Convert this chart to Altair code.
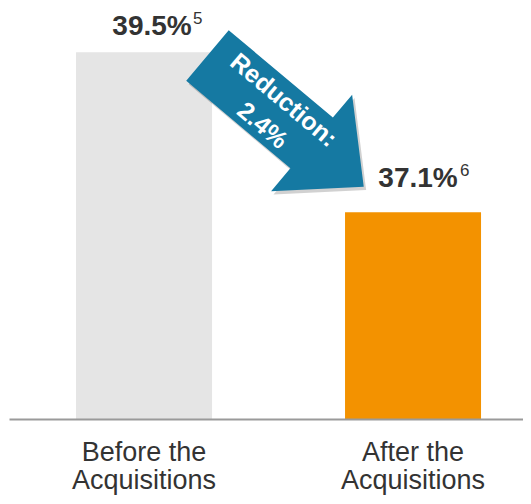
import altair as alt
import pandas as pd

# ---- data ----
categories = ["Before the|Acquisitions", "After the|Acquisitions"]
values = [39.5, 37.1]
footnotes = ["5", "6"]
bar_colors = ["#E5E5E5", "#F39200"]
arrow_color = "#1579A2"

FONT = "Liberation Sans"
TEXT_COLOR = "#333333"
Y_MIN, Y_MAX = 34.0, 40.165
W, H = 514, 411

df = pd.DataFrame({
    "cat": categories,
    "value": values,
    "note": footnotes,
    "label": [f"{v:.1f}%" for v in values],
})
reduction = round(values[0] - values[1], 1)
arrow_df = pd.DataFrame({"text": [f"Reduction:\n{reduction:.1f}%"]})

ARROW_PATH = ("M -1 -0.324 L 0.333 -0.324 L 0.333 -0.618 L 1 0 "
              "L 0.333 0.618 L 0.333 0.324 L -1 0.324 Z")

x_enc = alt.X(
    "cat:N", sort=categories,
    scale=alt.Scale(paddingInner=0.4944, paddingOuter=0.2026, align=0.615),
    axis=alt.Axis(
        title=None, labelExpr="split(datum.label, '|')", labelAngle=0,
        labelFont=FONT, labelFontSize=27, labelColor=TEXT_COLOR,
        labelLineHeight=28, labelPadding=20, ticks=False, tickSize=0,
        domainColor="#9A9A9A", domainWidth=2, zindex=1, grid=False,
    ),
)
y_enc = alt.Y("value:Q", stack=None,
              scale=alt.Scale(domain=[Y_MIN, Y_MAX], zero=False, nice=False),
              axis=None)

base = alt.Chart(df)

bars = base.mark_bar(clip=True).encode(
    x=x_enc, y=y_enc,
    color=alt.Color("cat:N", scale=alt.Scale(domain=categories, range=bar_colors), legend=None),
)

label_style = [
    # (main dx, main dy, sup dx, sup dy)
    (8, -17, 49, -28),
    (5, -25, 47, -36),
]
layers = [bars]
for cat, (mdx, mdy, sdx, sdy) in zip(categories, label_style):
    sub = base.transform_filter(alt.datum.cat == cat)
    layers.append(sub.mark_text(
        font=FONT, fontSize=28, fontWeight="bold", color=TEXT_COLOR,
        align="center", baseline="alphabetic", dx=mdx, dy=mdy,
    ).encode(x=x_enc, y=y_enc, text="label:N"))
    layers.append(sub.mark_text(
        font=FONT, fontSize=17, color=TEXT_COLOR,
        align="left", baseline="alphabetic", dx=sdx, dy=sdy,
    ).encode(x=x_enc, y=y_enc, text="note:N"))

arrow_base = alt.Chart(arrow_df)
shadow = arrow_base.mark_point(
    shape=ARROW_PATH, size=41616, angle=40, filled=True,
    color="#000000", opacity=0.18, strokeWidth=0,
).encode(x=alt.value(279), y=alt.value(116.5))
arrow = arrow_base.mark_point(
    shape=ARROW_PATH, size=41616, angle=40, filled=True,
    color=arrow_color, opacity=1, strokeWidth=0,
).encode(x=alt.value(276.6), y=alt.value(113.1))
arrow_text = arrow_base.mark_text(
    angle=40, font=FONT, fontSize=25, fontWeight="bold", color="white",
    align="center", baseline="middle", lineBreak="\n", lineHeight=33,
).encode(x=alt.value(274.6), y=alt.value(92.2), text="text:N")

chart = alt.layer(*layers, shadow, arrow, arrow_text).properties(
    width=W, height=H,
    padding={"left": 1, "top": 0, "right": 0, "bottom": 77},
    autosize=alt.AutoSizeParams(type="none"),
).configure_view(stroke=None)

chart.save("out.html", embed_options={"renderer": "svg", "actions": False})
